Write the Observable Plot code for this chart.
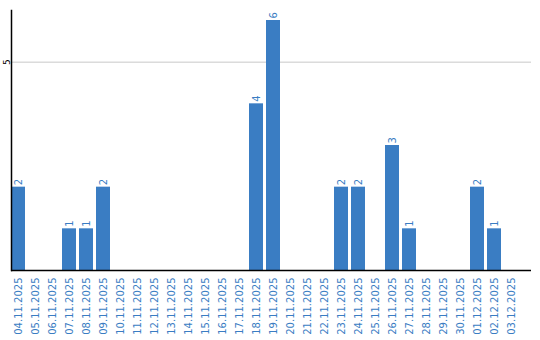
<!DOCTYPE html>
<html>
<head>
<meta charset="utf-8">
<script src="https://cdn.jsdelivr.net/npm/d3@7"></script>
<script src="https://cdn.jsdelivr.net/npm/@observablehq/plot@0.6"></script>
<style>
  html, body { margin: 0; padding: 0; background: #fff; }
  svg { display: block; }
</style>
</head>
<body>
<div id="chart"></div>
<script>
const dates = ["04.11.2025","05.11.2025","06.11.2025","07.11.2025","08.11.2025","09.11.2025","10.11.2025","11.11.2025","12.11.2025","13.11.2025","14.11.2025","15.11.2025","16.11.2025","17.11.2025","18.11.2025","19.11.2025","20.11.2025","21.11.2025","22.11.2025","23.11.2025","24.11.2025","25.11.2025","26.11.2025","27.11.2025","28.11.2025","29.11.2025","30.11.2025","01.12.2025","02.12.2025","03.12.2025"];
const counts = [2,0,0,1,1,2,0,0,0,0,0,0,0,0,4,6,0,0,0,2,2,0,3,1,0,0,0,2,1,0];
const yTicks = [5];

const data = dates.map((d, i) => ({date: d, count: counts[i]}));
const nonZero = data.filter(d => d.count > 0);
const blue = "#3a7dc3";

const chart = Plot.plot({
  width: 540,
  height: 340,
  marginTop: 10,
  marginLeft: 11,
  marginRight: 9,
  marginBottom: 70,
  style: {fontFamily: "DejaVu Sans", fontSize: "10px", background: "#fff"},
  x: {domain: dates, paddingInner: 0.18, paddingOuter: 0.384, align: 0, label: null},
  y: {domain: [0, 6.24], label: null},
  marks: [
    Plot.gridY(yTicks, {stroke: "#c8c8c8", strokeOpacity: 1}),
    Plot.barY(nonZero, {x: "date", y: "count", fill: blue}),
    Plot.text(nonZero, {x: "date", y: "count", text: d => String(d.count), rotate: -90, textAnchor: "start", dy: -2, fill: blue, fontSize: 10, lineAnchor: "middle"}),
    Plot.axisX({tickSize: 0, tickPadding: 7, tickRotate: -90, fill: blue, fontSize: 10, label: null}),
    Plot.axisY(yTicks, {tickSize: 0, tickPadding: 2, tickRotate: -90, fill: "#000", fontSize: 9, label: null, textAnchor: "middle"}),
    Plot.ruleY([0], {stroke: "#000", strokeWidth: 1.5}),
    Plot.frame({anchor: "left", stroke: "#000", strokeWidth: 1.5})
  ]
});
document.getElementById("chart").appendChild(chart);
</script>
</body>
</html>
